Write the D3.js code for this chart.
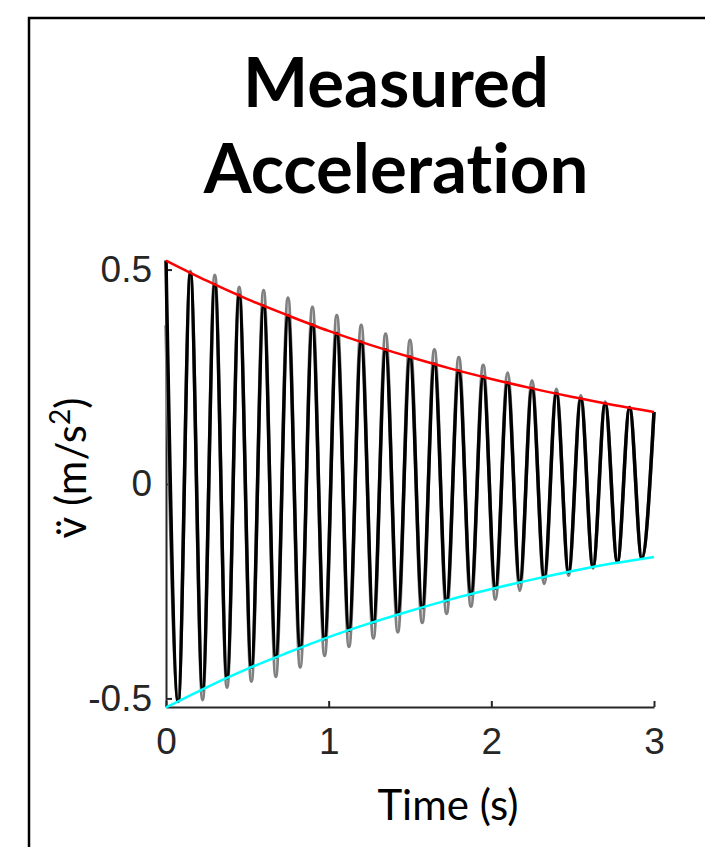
<!DOCTYPE html>
<html>
<head>
<meta charset="utf-8">
<script src="https://cdn.jsdelivr.net/npm/d3@7"></script>
<style>
  body { margin: 0; background: #fff; }
  svg { display: block; }
</style>
</head>
<body>
<div id="chart"></div>
<script>
// Set up chart
var svgWidth = 705;
var svgHeight = 847;

// time of each peak / trough (s)
var extremaTimes = [0, 0.075, 0.15, 0.225, 0.3, 0.375, 0.45, 0.525, 0.6, 0.675,
  0.75, 0.825, 0.9, 0.975, 1.05, 1.125, 1.2, 1.275, 1.35, 1.425,
  1.5, 1.575, 1.65, 1.725, 1.8, 1.875, 1.95, 2.025, 2.1, 2.175,
  2.25, 2.325, 2.4, 2.475, 2.55, 2.625, 2.7, 2.775, 2.85, 2.925, 3.0];

// measured acceleration, black trace (peaks and troughs)
var measuredValues = [0.521, -0.507, 0.492, -0.479, 0.465, -0.452, 0.440, -0.427, 0.415, -0.404,
  0.393, -0.382, 0.371, -0.361, 0.351, -0.341, 0.331, -0.322, 0.313, -0.304,
  0.296, -0.288, 0.280, -0.272, 0.264, -0.257, 0.250, -0.243, 0.236, -0.229,
  0.223, -0.217, 0.211, -0.205, 0.199, -0.193, 0.188, -0.183, 0.178, -0.173, 0.168];

// raw signal, gray trace behind
var rawValues = [0.370, -0.506, 0.496, -0.503, 0.487, -0.474, 0.459, -0.460, 0.451, -0.449,
  0.434, -0.427, 0.412, -0.400, 0.393, -0.379, 0.370, -0.359, 0.350, -0.345,
  0.335, -0.323, 0.313, -0.302, 0.295, -0.285, 0.277, -0.269, 0.259, -0.248,
  0.241, -0.232, 0.221, -0.213, 0.206, -0.196, 0.191, -0.182, 0.179, -0.174, 0.168];

// envelopes
var envTimes = [0, 0.25, 0.5, 0.75, 1.0, 1.25, 1.5, 1.75, 2.0, 2.25, 2.5, 2.75, 3.0];
var upperEnv = [0.521, 0.474, 0.431, 0.393, 0.357, 0.325, 0.296, 0.269, 0.245, 0.223, 0.203, 0.184, 0.168];
var lowerEnv = [-0.521, -0.474, -0.431, -0.393, -0.357, -0.325, -0.296, -0.269, -0.245, -0.223, -0.203, -0.185, -0.170];

var xTicks = [0, 1, 2, 3];
var yTicks = [-0.5, 0, 0.5];

var svg = d3.select("#chart")
  .append("svg")
  .attr("width", svgWidth)
  .attr("height", svgHeight);

// figure frame
svg.append("rect")
  .attr("x", 29)
  .attr("y", 18)
  .attr("width", 720)
  .attr("height", 900)
  .attr("fill", "none")
  .attr("stroke", "#000")
  .attr("stroke-width", 2.5);

// title
var title = svg.append("text")
  .attr("text-anchor", "middle")
  .attr("font-family", "Lato, 'Open Sans', sans-serif")
  .attr("font-weight", "bold")
  .attr("font-size", 69)
  .style("font-variant-ligatures", "none")
  .attr("fill", "#000");
title.append("tspan").attr("x", 396).attr("y", 107).text("Measured");
title.append("tspan").attr("x", 396).attr("y", 193).text("Acceleration");

// scales
var xScale = d3.scaleLinear().domain([0, 3]).range([166, 654]);
var yScale = d3.scaleLinear().domain([-0.52, 0.52]).range([707, 261]);

var xAxis = d3.axisBottom(xScale)
  .tickValues(xTicks)
  .tickFormat(d => String(d))
  .tickSizeInner(-6)
  .tickSizeOuter(0)
  .tickPadding(21);

var yAxis = d3.axisLeft(yScale)
  .tickValues(yTicks)
  .tickFormat(d => String(d))
  .tickSizeInner(-6)
  .tickSizeOuter(0)
  .tickPadding(14);

var gx = svg.append("g")
  .attr("transform", "translate(0," + 707 + ")")
  .call(xAxis);

var gy = svg.append("g")
  .attr("transform", "translate(" + 166 + ",0)")
  .call(yAxis);

[gx, gy].forEach(function(g) {
  g.select(".domain").attr("stroke", "#262626").attr("stroke-width", 2);
  g.selectAll(".tick line").attr("stroke", "#262626").attr("stroke-width", 2);
  g.selectAll(".tick text")
    .attr("fill", "#262626")
    .attr("font-family", "'Liberation Sans', Arial, sans-serif")
    .attr("font-size", 37);
});

// axis labels
svg.append("text")
  .attr("x", 448)
  .attr("y", 820)
  .attr("text-anchor", "middle")
  .attr("font-family", "Lato, 'Open Sans', sans-serif")
  .attr("font-size", 42)
  .attr("fill", "#000")
  .text("Time (s)");

var yLabel = svg.append("text")
  .attr("transform", "translate(86,468) rotate(-90)")
  .attr("text-anchor", "middle")
  .attr("font-family", "Lato, 'DejaVu Sans', sans-serif")
  .attr("font-size", 42)
  .attr("fill", "#000");
yLabel.append("tspan").text("v\u0308 (m/s");
yLabel.append("tspan").attr("font-size", 28).attr("dy", -16).text("2");
yLabel.append("tspan").attr("dy", 16).text(")");

// lines
var oscLine = d3.line()
  .x((d, i) => xScale(extremaTimes[i]))
  .y(d => yScale(d))
  .curve(d3.curveMonotoneX);

var envLine = d3.line()
  .x((d, i) => xScale(envTimes[i]))
  .y(d => yScale(d))
  .curve(d3.curveMonotoneX);

svg.append("path")
  .datum(rawValues)
  .attr("d", oscLine)
  .attr("fill", "none")
  .attr("stroke", "#808080")
  .attr("stroke-width", 3.5);

svg.append("path")
  .datum(measuredValues)
  .attr("d", oscLine)
  .attr("fill", "none")
  .attr("stroke", "#000")
  .attr("stroke-width", 3.5);

svg.append("path")
  .datum(upperEnv)
  .attr("d", envLine)
  .attr("fill", "none")
  .attr("stroke", "#ff0000")
  .attr("stroke-width", 2.5);

svg.append("path")
  .datum(lowerEnv)
  .attr("d", envLine)
  .attr("fill", "none")
  .attr("stroke", "#00ffff")
  .attr("stroke-width", 2.5);
</script>
</body>
</html>
